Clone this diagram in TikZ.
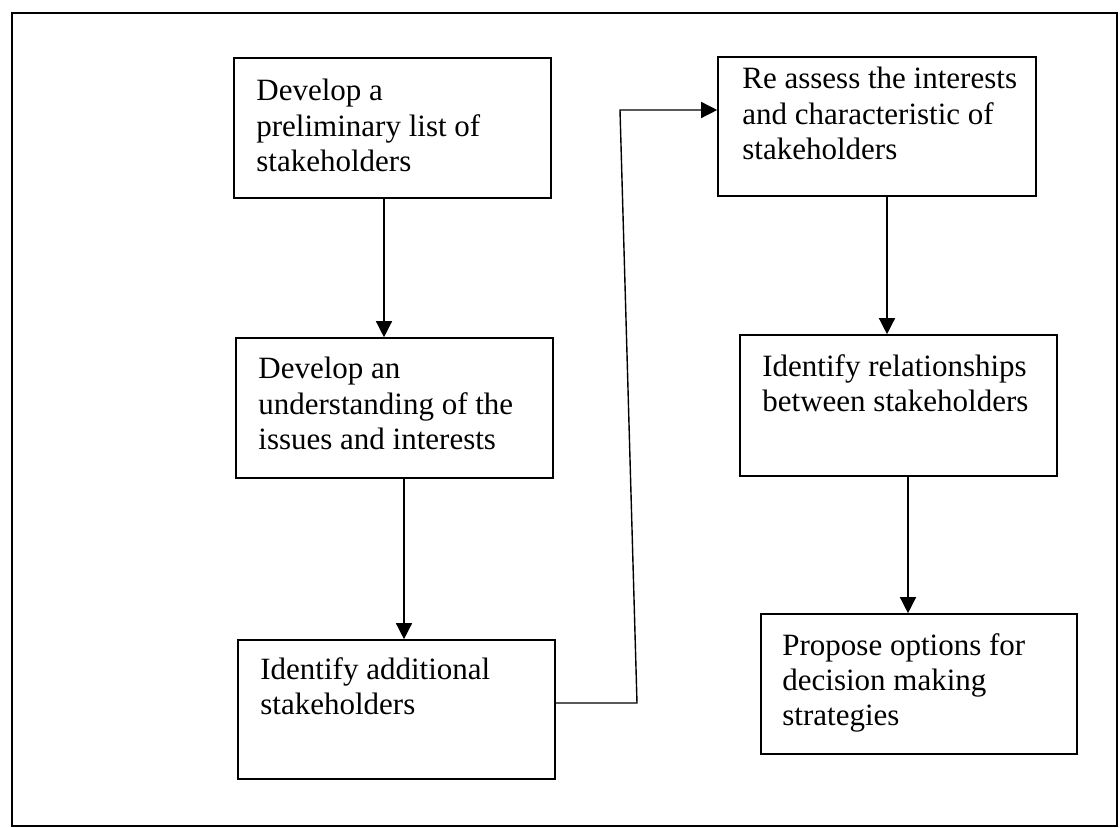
\documentclass[tikz,border=0pt]{standalone}
\usepackage{fontspec}
\setmainfont{Liberation Serif}
\usetikzlibrary{arrows.meta}
\tikzset{
  box/.style={draw, line width=0.8pt, rectangle, inner sep=0pt},
  txt/.style={anchor=north west, align=left, inner sep=0pt, font=\fontsize{15.5}{17.6}\selectfont},
  arr/.style={draw, line width=0.7pt, -{Triangle[length=8pt,width=8pt]}},
  frame/.style={draw, line width=0.8pt}
}
\begin{document}
\begin{tikzpicture}[x=0.5pt,y=-0.5pt]
\useasboundingbox (0,0) rectangle (1120,828);
\draw[frame] (12,13) rectangle (1117,826);
% boxes
\node[box, minimum width=158.5pt, minimum height=70pt] (b1) at (392.5,128) {};
\node[box, minimum width=158.5pt, minimum height=70pt] (b2) at (394.5,408) {};
\node[box, minimum width=158.5pt, minimum height=69.5pt] (b3) at (396.5,709.5) {};
\node[box, minimum width=159pt, minimum height=69.5pt] (b4) at (877,126.5) {};
\node[box, minimum width=158.5pt, minimum height=70.5pt] (b5) at (898.5,405.5) {};
\node[box, minimum width=158pt, minimum height=70pt] (b6) at (919,684) {};
% texts
\node[txt] (t1) at (256,79) {Develop a\\preliminary list of\\stakeholders};
\node[txt] (t2) at (258,357) {Develop an\\understanding of the\\issues and interests};
\node[txt] (t3) at (260,657) {Identify additional\\stakeholders};
\node[txt] (t4) at (742,67) {Re assess the interests\\and characteristic of\\stakeholders};
\node[txt] (t5) at (762,354) {Identify relationships\\between stakeholders};
\node[txt] (t6) at (782,633) {Propose options for\\decision making\\strategies};
% connector guide coordinates
\coordinate (x1) at (384,0);
\coordinate (x2) at (404,0);
\coordinate (x4) at (887,0);
\coordinate (x5) at (908,0);
\coordinate (k1) at (637,703);
\coordinate (k2) at (620,110);
% connectors
\draw[arr] (b1.south -| x1) -- (b2.north -| x1);
\draw[arr] (b2.south -| x2) -- (b3.north -| x2);
\draw[arr] (k1 -| b3.east) -- (k1) -- (k2) -- (k2 -| b4.west);
\draw[arr] (b4.south -| x4) -- (b5.north -| x4);
\draw[arr] (b5.south -| x5) -- (b6.north -| x5);
\end{tikzpicture}
\end{document}
